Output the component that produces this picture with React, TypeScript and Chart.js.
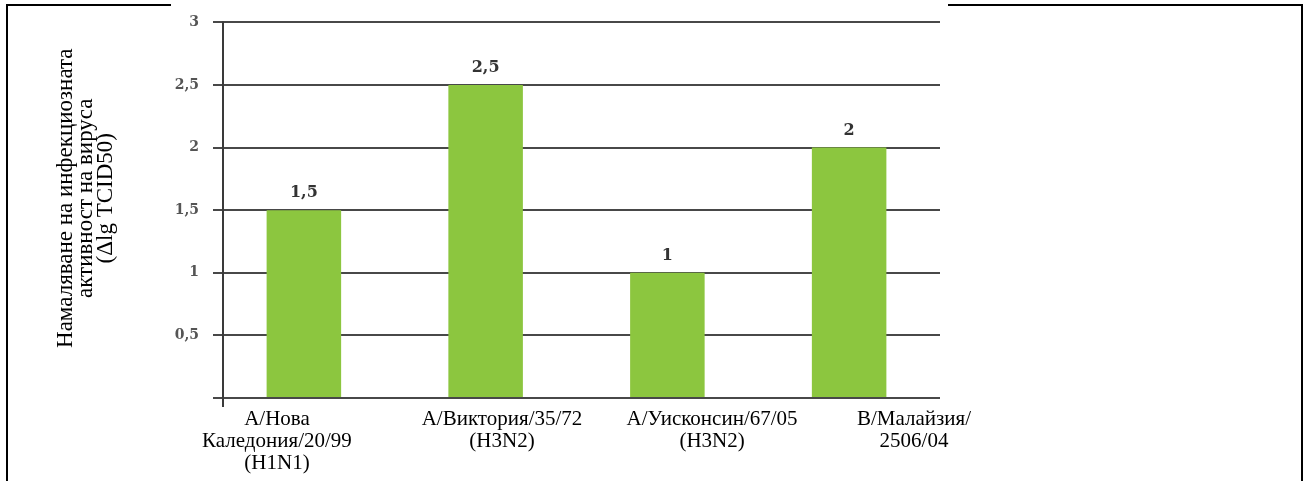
import React, { useEffect, useRef } from 'react';
import { Chart, registerables } from 'chart.js';

Chart.register(...registerables);

// Data
const strainLabels: string[][] = [
  ['А/Нова', 'Каледония/20/99', '(H1N1)'],
  ['А/Виктория/35/72', '(H3N2)'],
  ['А/Уисконсин/67/05', '(H3N2)'],
  ['В/Малайзия/', '2506/04'],
];
const reductionValues: number[] = [1.5, 2.5, 1, 2];
const yTickValues: number[] = [0, 0.5, 1, 1.5, 2, 2.5, 3];
const yTitleLines: string[] = ['Намаляване на инфекциозната', 'активност на вируса', '(Δlg TCID50)'];

// Layout constants (label placement relative to each category centre)
const LABEL_SHIFT = [-0.148, 0.09, 0.246, 0.357];

const fmt = (v: number) => String(v).replace('.', ',');

export default function App() {
  const ref = useRef<HTMLCanvasElement>(null);

  useEffect(() => {
    const axisLine = {
      id: 'axisLine',
      afterDraw(chart: any) {
        const { ctx, chartArea: a } = chart;
        ctx.save();
        ctx.strokeStyle = '#3a3a3a';
        ctx.lineWidth = 2;
        ctx.beginPath();
        ctx.moveTo(a.left + 10, a.top - 1);
        ctx.lineTo(a.left + 10, a.bottom + 9);
        ctx.stroke();
        ctx.restore();
      },
    };
    const yTitle = {
      id: 'yTitle',
      afterDraw(chart: any) {
        const { ctx, chartArea: a } = chart;
        const s = chart.scales.y;
        const cy = (a.top + a.bottom) / 2 - 12;
        ctx.save();
        ctx.font = '23px "Liberation Serif"';
        ctx.fillStyle = '#000';
        ctx.textAlign = 'center';
        ctx.textBaseline = 'middle';
        yTitleLines.forEach((line, i) => {
          ctx.save();
          ctx.translate(s.left + 12 + i * 20, cy);
          ctx.rotate(-Math.PI / 2);
          ctx.fillText(line, 0, 0);
          ctx.restore();
        });
        ctx.restore();
      },
    };
    const valueLabels = {
      id: 'valueLabels',
      afterDatasetsDraw(chart: any) {
        const meta = chart.getDatasetMeta(0);
        const ctx = chart.ctx;
        ctx.save();
        ctx.font = 'bold 16px "DejaVu Serif"';
        ctx.fillStyle = '#333';
        ctx.textAlign = 'center';
        ctx.textBaseline = 'middle';
        meta.data.forEach((el: any, i: number) => {
          ctx.fillText(fmt(reductionValues[i]), el.x, el.y - 17);
        });
        ctx.restore();
      },
    };

    const chart = new Chart(ref.current as HTMLCanvasElement, {
      type: 'bar',
      data: {
        labels: strainLabels.map((l) => l.join(' ')),
        datasets: [
          {
            data: reductionValues,
            backgroundColor: '#8cc63f',
            barPercentage: 0.41,
            categoryPercentage: 1,
          },
        ],
      },
      options: {
        responsive: false,
        animation: false,
        layout: { padding: { left: 54, top: 20, right: 364, bottom: 0 } },
        plugins: { legend: { display: false }, tooltip: { enabled: false } },
        scales: {
          x: { display: false, offset: true },
          x2: {
            type: 'linear',
            position: 'bottom',
            offset: false,
            min: -0.5,
            max: 3.5,
            grid: { display: false },
            border: { display: false },
            afterBuildTicks: (s: any) => {
              s.ticks = strainLabels.map((_, i) => ({ value: i + LABEL_SHIFT[i] }));
            },
            afterFit: (s: any) => {
              s.height = 83;
            },
            ticks: {
              autoSkip: false,
              maxRotation: 0,
              minRotation: 0,
              padding: 2,
              color: '#000',
              font: { family: '"Liberation Serif"', size: 21, lineHeight: '22px' },
              callback: (_v: any, i: number) => strainLabels[i],
            },
          },
          y: {
            min: 0,
            max: 3,
            afterFit: (s: any) => {
              s.width = 213 - 54;
            },
            afterBuildTicks: (s: any) => {
              s.ticks = yTickValues.map((v) => ({ value: v }));
            },
            grid: { color: '#484848', lineWidth: 2, drawTicks: false },
            border: { display: false },
            ticks: {
              padding: 14,
              color: '#555',
              font: { family: '"DejaVu Serif"', size: 14, weight: 'bold' },
              callback: (v: any) => (v === 0 ? '' : fmt(v)),
            },
          },
        },
      } as any,
      plugins: [axisLine, yTitle, valueLabels],
    });
    return () => chart.destroy();
  }, []);

  return (
    <div style={{ position: 'absolute', left: 0, top: 0, width: 1304, height: 481, overflow: 'hidden', background: '#fff' }}>
      <div style={{ position: 'absolute', left: 6, top: 4, width: 1297, height: 600, border: '2px solid #000', boxSizing: 'border-box' }} />
      <div style={{ position: 'absolute', left: 171, top: 0, width: 777, height: 14, background: '#fff' }} />
      <canvas ref={ref} width={1304} height={481} style={{ position: 'absolute', left: 0, top: 0 }} />
    </div>
  );
}
